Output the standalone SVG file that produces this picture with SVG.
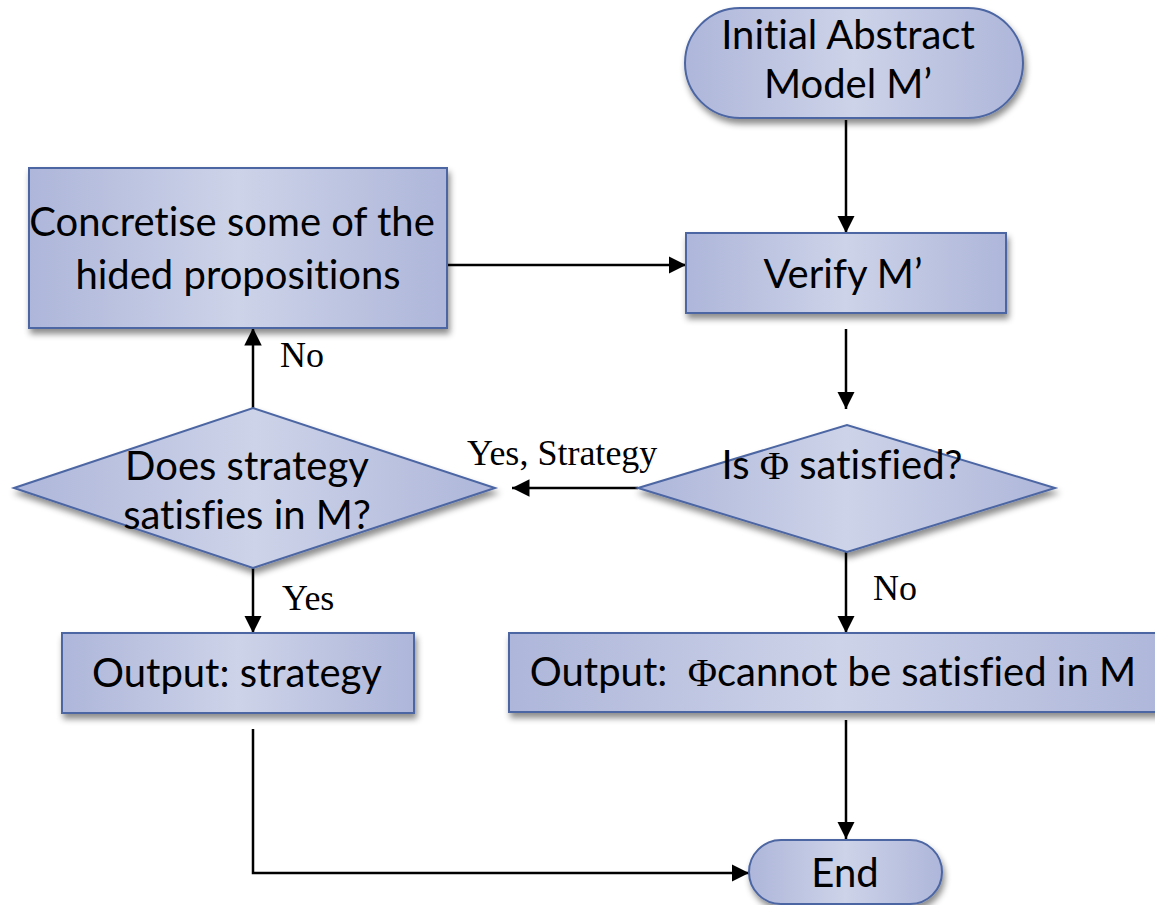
<svg xmlns="http://www.w3.org/2000/svg" width="1155" height="905" viewBox="0 0 1155 905">
<style>
.shape{fill:url(#g);stroke:#4c66a3;stroke-width:2;filter:url(#sh)}
.t{font-family:Lato,"Liberation Sans",sans-serif;font-size:40px;fill:#000;text-anchor:middle;font-variant-ligatures:none;font-feature-settings:"liga" 0,"dlig" 0}
.phi{font-family:"Liberation Serif",serif}
.lbl{font-family:"Liberation Serif",serif;font-size:36px;fill:#000}
.c{fill:none;stroke:#000;stroke-width:2.5;marker-end:url(#ah)}
</style>
<defs>
<linearGradient id="g" x1="0" y1="0" x2="1" y2="0">
<stop offset="0" stop-color="#aeb6da"/>
<stop offset="0.5" stop-color="#cdd3e8"/>
<stop offset="1" stop-color="#aeb6da"/>
</linearGradient>
<filter id="sh" x="-10%" y="-10%" width="120%" height="130%">
<feDropShadow dx="2" dy="5" stdDeviation="3" flood-color="#000" flood-opacity="0.45"/>
</filter>
<marker id="ah" viewBox="0 0 10 10" refX="10" refY="5" markerWidth="7" markerHeight="7" markerUnits="strokeWidth" orient="auto">
<path d="M0,0 L10,5 L0,10 z" fill="#000"/>
</marker>
</defs>
<g id="connectors">
<path class="c" d="M846,120 L846,233"/>
<path class="c" d="M447,265 L686,265"/>
<path class="c" d="M846,329 L846,409"/>
<path class="c" d="M638,488 L512,488"/>
<path class="c" d="M846,552 L846,633"/>
<path class="c" d="M846,720 L846,839"/>
<path class="c" d="M253,568 L253,633"/>
<path class="c" d="M253,408 L253,328"/>
<path class="c" d="M253,729 L253,873 L749,873"/>
<text class="lbl" x="280" y="367">No</text>
<text class="lbl" x="467" y="465">Yes, Strategy</text>
<text class="lbl" x="282" y="610">Yes</text>
<text class="lbl" x="873" y="600">No</text>
</g>
<g id="initial">
<rect class="shape" x="685" y="8" width="338" height="110" rx="55"/>
<text class="t" x="848" y="49">Initial Abstract</text>
<text class="t" x="848" y="98">Model M’</text>
</g>
<g id="concretise">
<rect class="shape" x="29" y="168" width="418" height="160"/>
<text class="t" x="232" y="236">Concretise some of the</text>
<text class="t" x="238" y="289">hided propositions</text>
</g>
<g id="verify">
<rect class="shape" x="686" y="233" width="320" height="80"/>
<text class="t" x="843" y="288">Verify M’</text>
</g>
<g id="does">
<polygon class="shape" points="14,488 253,408 495,488 253,568"/>
<text class="t" x="247" y="480">Does strategy</text>
<text class="t" x="247" y="529">satisfies in M?</text>
</g>
<g id="isphi">
<polygon class="shape" points="638,488 847,425 1055,488 847,552"/>
<text class="t" x="842" y="479">Is <tspan class="phi">Φ</tspan> satisfied?</text>
</g>
<g id="outstrategy">
<rect class="shape" x="62" y="633" width="352" height="80"/>
<text class="t" x="237" y="687">Output: strategy</text>
</g>
<g id="outphi">
<rect class="shape" x="509" y="633" width="660" height="79"/>
<text class="t" x="833" y="686">Output: &#160;<tspan class="phi">Φ</tspan>cannot be satisfied in M</text>
</g>
<g id="end">
<rect class="shape" x="749" y="840" width="193" height="64" rx="32"/>
<text class="t" x="845" y="887">End</text>
</g>
</svg>
